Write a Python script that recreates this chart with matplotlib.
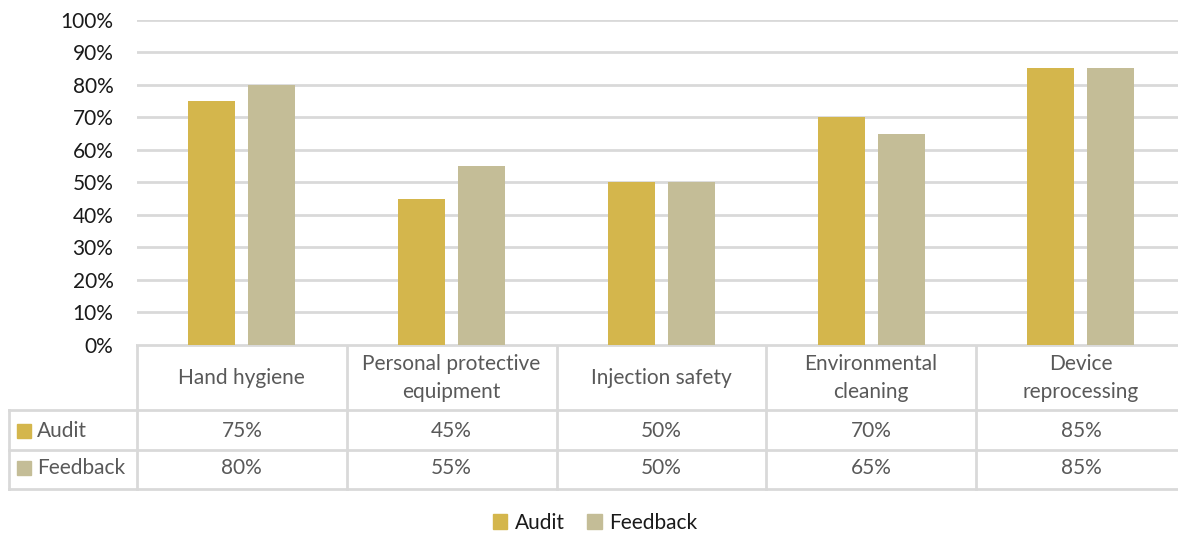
import matplotlib
matplotlib.use("Agg")
import matplotlib.pyplot as plt
from matplotlib.patches import Patch, Rectangle
import numpy as np

categories = ["Hand hygiene", "Personal protective\nequipment", "Injection safety",
              "Environmental\ncleaning", "Device\nreprocessing"]
series_names = ["Audit", "Feedback"]
audit = [0.75, 0.45, 0.50, 0.70, 0.85]
feedback = [0.80, 0.55, 0.50, 0.65, 0.85]
yticks = [0.0, 0.1, 0.2, 0.3, 0.4, 0.5, 0.6, 0.7, 0.8, 0.9, 1.0]

colors = ["#D4B64C", "#C4BD97"]
grid_c = "#D9D9D9"
text_c = "#595959"
FONT = "Lato"
FS = 15

plt.rcParams['font.family'] = [FONT, 'DejaVu Sans']

W, H = 1178, 535
fig = plt.figure(figsize=(W / 100, H / 100), dpi=100)

def fx(px):
    return px / W

def fy(py):
    return 1 - py / H

cat_w = 209.75
x0 = 137
ax_right = x0 + 5 * cat_w
y_top, y_bot = 19.7, 345
ax = fig.add_axes([fx(x0), fy(y_bot), fx(ax_right - x0), (y_bot - y_top) / H])
ax.set_xlim(0, 5)
ax.set_ylim(0, 1)
x = np.arange(5) + 0.5
bw = 47 / cat_w
off = 30 / cat_w
ax.bar(x - off, audit, width=bw, color=colors[0], zorder=3)
ax.bar(x + off, feedback, width=bw, color=colors[1], zorder=3)
ax.set_yticks(yticks)
ax.set_yticklabels([f"{int(round(v*100))}%" for v in yticks], fontsize=FS, color="#1a1a1a")
ax.tick_params(axis='y', length=0, pad=17)
ax.set_xticks([])
ax.yaxis.grid(True, color=grid_c, linewidth=2, zorder=0)
for s in ax.spines.values():
    s.set_visible(False)

# table overlay in pixel coordinates
tab = fig.add_axes([0, 0, 1, 1], zorder=-1)
tab.set_xlim(0, W)
tab.set_ylim(H, 0)
tab.axis('off')
lw = 2
col_edges = [x0 + i * cat_w for i in range(6)]
tab.plot([x0, W], [345, 345], color=grid_c, lw=lw)
for yy in [410, 450, 489]:
    tab.plot([9, W], [yy, yy], color=grid_c, lw=lw)
tab.plot([9, 9], [410, 489], color=grid_c, lw=lw)
for xe in col_edges:
    tab.plot([xe, xe], [345, 489], color=grid_c, lw=lw)

for i, c in enumerate(categories):
    cx = x0 + (i + 0.5) * cat_w
    tab.text(cx, 378, c, ha='center', va='center', fontsize=FS, color=text_c,
             linespacing=1.55)
    tab.text(cx, 431, f"{int(round(audit[i]*100))}%", ha='center', va='center',
             fontsize=FS, color=text_c)
    tab.text(cx, 468, f"{int(round(feedback[i]*100))}%", ha='center', va='center',
             fontsize=FS, color=text_c)

for j, (nm, yy) in enumerate(zip(series_names, [431, 468])):
    tab.add_patch(Rectangle((17, yy - 7), 14, 14, color=colors[j]))
    tab.text(37, yy, nm, ha='left', va='center', fontsize=FS, color=text_c)

handles = [Patch(color=colors[0]), Patch(color=colors[1])]
fig.legend(handles, series_names, loc='center', bbox_to_anchor=(fx(595), fy(523)),
           ncol=2, frameon=False, fontsize=FS, handlelength=0.7, handleheight=0.7,
           handletextpad=0.35, columnspacing=1.1, labelcolor="#1a1a1a")

fig.savefig("out.png", dpi=100)
